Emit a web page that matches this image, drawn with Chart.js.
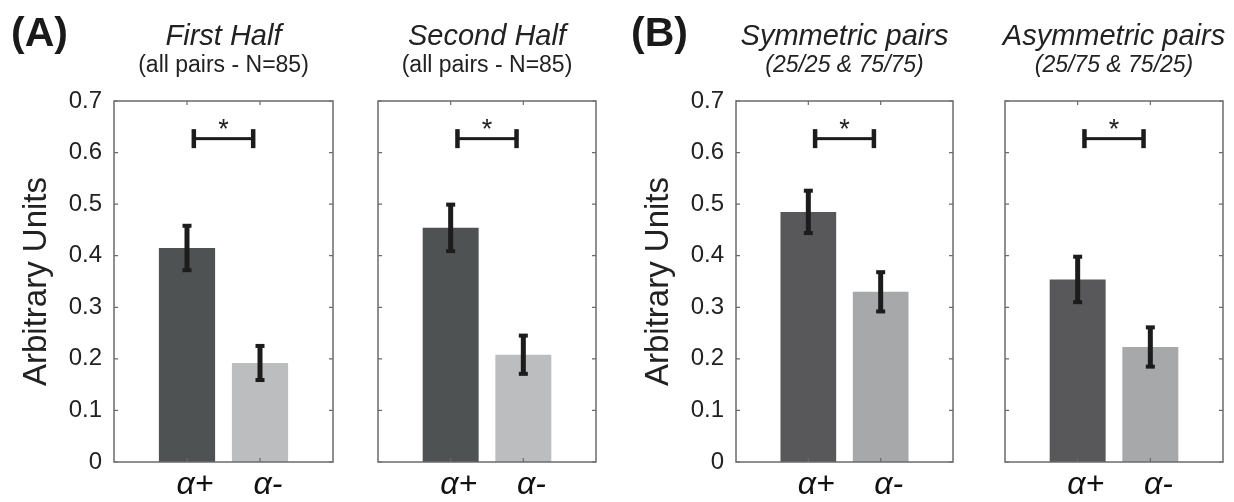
<!DOCTYPE html>
<html lang="en">
<head>
<meta charset="UTF-8">
<title>Arbitrary Units: α+ vs α-</title>
<script src="https://cdn.jsdelivr.net/npm/chart.js"></script>
<style>
  body { margin: 0; background: #fff; }
  #wrap { display: flex; width: 1234px; height: 502px; }
  canvas { display: block; }
</style>
</head>
<body>
<div id="wrap">
  <canvas id="p1" width="350" height="502"></canvas>
  <canvas id="p2" width="270" height="502"></canvas>
  <canvas id="p3" width="355" height="502"></canvas>
  <canvas id="p4" width="259" height="502"></canvas>
</div>
<script>
// bar categories and their x positions on the linear axis
const labels = ['α+', 'α-'];
const positions = [1, 2];

// means and half-length of the error bars
const firstHalf = [0.415, 0.192];
const firstHalfErr = [0.045, 0.035];
const secondHalf = [0.454, 0.208];
const secondHalfErr = [0.047, 0.039];
const symmetric = [0.485, 0.330];
const symmetricErr = [0.043, 0.040];
const asymmetric = [0.354, 0.223];
const asymmetricErr = [0.046, 0.040];

const yTicks = [0, 0.1, 0.2, 0.3, 0.4, 0.5, 0.6, 0.7];

// significance bracket between the two bars
const sigLevel = 0.627;
const sigSpan = [1.09, 1.91];
const sigMark = '*';

const titles = ['First Half', 'Second Half', 'Symmetric pairs', 'Asymmetric pairs'];
const subtitles = ['(all pairs - N=85)', '(all pairs - N=85)', '(25/25 & 75/75)', '(25/75 & 75/25)'];

const FONT = "'Liberation Sans', Arial, sans-serif";
Chart.defaults.font.family = FONT;

const colorsA = ['#4e5253', '#bcbdbf'];
const colorsB = ['#58585a', '#a7a8aa'];

const panels = [
  { id: 'p1', values: firstHalf, errs: firstHalfErr, title: titles[0], sub: subtitles[0], subItalic: false,
    letter: '(A)', colors: colorsA, showY: true, yWidth: 114, padLeft: 0, padRight: 17, titlePad: 17 },
  { id: 'p2', values: secondHalf, errs: secondHalfErr, title: titles[1], sub: subtitles[1], subItalic: false,
    letter: null, colors: colorsA, showY: false, yWidth: 10, padLeft: 18, padRight: 24, titlePad: 0 },
  { id: 'p3', values: symmetric, errs: symmetricErr, title: titles[2], sub: subtitles[2], subItalic: true,
    letter: '(B)', colors: colorsB, showY: true, yWidth: 116, padLeft: 0, padRight: 22, titlePad: 19 },
  { id: 'p4', values: asymmetric, errs: asymmetricErr, title: titles[3], sub: subtitles[3], subItalic: true,
    letter: null, colors: colorsB, showY: false, yWidth: 10, padLeft: 20, padRight: 11, titlePad: 0 }
];

// error bars, bracket, box frame with inward ticks, titles
const panelDecor = {
  id: 'panelDecor',
  afterDatasetsDraw(chart, args, o) {
    const { ctx, scales: { x, y } } = chart;
    ctx.save();
    ctx.fillStyle = '#1c1c1c';
    o.values.forEach((v, i) => {
      const px = x.getPixelForValue(positions[i]);
      const hi = y.getPixelForValue(v + o.errs[i]);
      const lo = y.getPixelForValue(v - o.errs[i]);
      ctx.fillRect(px - 2.5, hi, 5, lo - hi);
      ctx.fillRect(px - 4.5, hi - 1, 9, 4);
      ctx.fillRect(px - 4.5, lo - 3, 9, 4);
    });

    const bx0 = x.getPixelForValue(sigSpan[0]);
    const bx1 = x.getPixelForValue(sigSpan[1]);
    const by = y.getPixelForValue(sigLevel);
    ctx.fillRect(bx0, by - 1.5, bx1 - bx0, 3);
    ctx.fillRect(bx0 - 2, by - 9.5, 4.5, 19);
    ctx.fillRect(bx1 - 2.5, by - 9.5, 4.5, 19);
    ctx.font = '27px ' + FONT;
    ctx.textAlign = 'center';
    ctx.textBaseline = 'alphabetic';
    ctx.fillStyle = '#222';
    ctx.fillText(sigMark, (bx0 + bx1) / 2, by - 1);
    ctx.restore();
  },
  afterDraw(chart, args, o) {
    const { ctx, chartArea: a, scales: { x, y } } = chart;
    ctx.save();
    ctx.strokeStyle = '#6b6b6b';
    ctx.lineWidth = 1.5;
    ctx.strokeRect(a.left, a.top, a.right - a.left, a.bottom - a.top);
    ctx.lineWidth = 1.2;
    ctx.beginPath();
    y.ticks.forEach(t => {
      const py = y.getPixelForValue(t.value);
      ctx.moveTo(a.left, py); ctx.lineTo(a.left + 4, py);
      ctx.moveTo(a.right, py); ctx.lineTo(a.right - 4, py);
    });
    positions.forEach(p => {
      const px = x.getPixelForValue(p);
      ctx.moveTo(px, a.top); ctx.lineTo(px, a.top + 4);
      ctx.moveTo(px, a.bottom); ctx.lineTo(px, a.bottom - 4);
    });
    ctx.stroke();

    const cx = (a.left + a.right) / 2;
    ctx.fillStyle = '#222';
    ctx.textAlign = 'center';
    ctx.textBaseline = 'alphabetic';
    ctx.font = 'italic 29px ' + FONT;
    ctx.fillText(o.title, cx, 45);
    ctx.font = (o.subItalic ? 'italic ' : '') + '23px ' + FONT;
    ctx.fillText(o.sub, cx, 72);
    if (o.letter) {
      ctx.textAlign = 'left';
      ctx.font = 'bold 41px ' + FONT;
      ctx.fillStyle = '#1a1a1a';
      ctx.fillText(o.letter, 11, 46);
    }
    ctx.restore();
  }
};

panels.forEach(p => {
  new Chart(document.getElementById(p.id), {
    type: 'bar',
    data: {
      datasets: [{
        data: p.values.map((v, i) => ({ x: positions[i], y: v })),
        backgroundColor: p.colors,
        borderWidth: 0,
        categoryPercentage: 1,
        barPercentage: 0.77
      }]
    },
    options: {
      responsive: false,
      animation: false,
      layout: { padding: { left: p.padLeft, right: p.padRight, top: 101, bottom: 0 } },
      plugins: {
        legend: { display: false },
        tooltip: { enabled: false },
        panelDecor: p
      },
      scales: {
        x: {
          type: 'linear', min: 0, max: 3, offset: false,
          grid: { display: false }, border: { display: false },
          afterBuildTicks: s => { s.ticks = positions.map(v => ({ value: v })); },
          afterFit: s => { s.height = 40; },
          ticks: {
            callback: v => labels[positions.indexOf(v)],
            font: { size: 32, style: 'italic' }, color: '#111',
            padding: -4, labelOffset: 8, maxRotation: 0
          }
        },
        y: {
          min: 0, max: 0.7,
          grid: { display: false }, border: { display: false },
          afterBuildTicks: s => { s.ticks = yTicks.map(v => ({ value: v })); },
          afterFit: s => { s.width = p.yWidth; },
          ticks: {
            display: p.showY,
            callback: v => (v === 0 ? '0' : v.toFixed(1)),
            font: { size: 24 }, color: '#222', padding: 4
          },
          title: {
            display: p.showY, text: 'Arbitrary Units',
            font: { size: 33 }, color: '#222',
            padding: { top: p.titlePad, bottom: 0 }
          }
        }
      }
    },
    plugins: [panelDecor]
  });
});
</script>
</body>
</html>
